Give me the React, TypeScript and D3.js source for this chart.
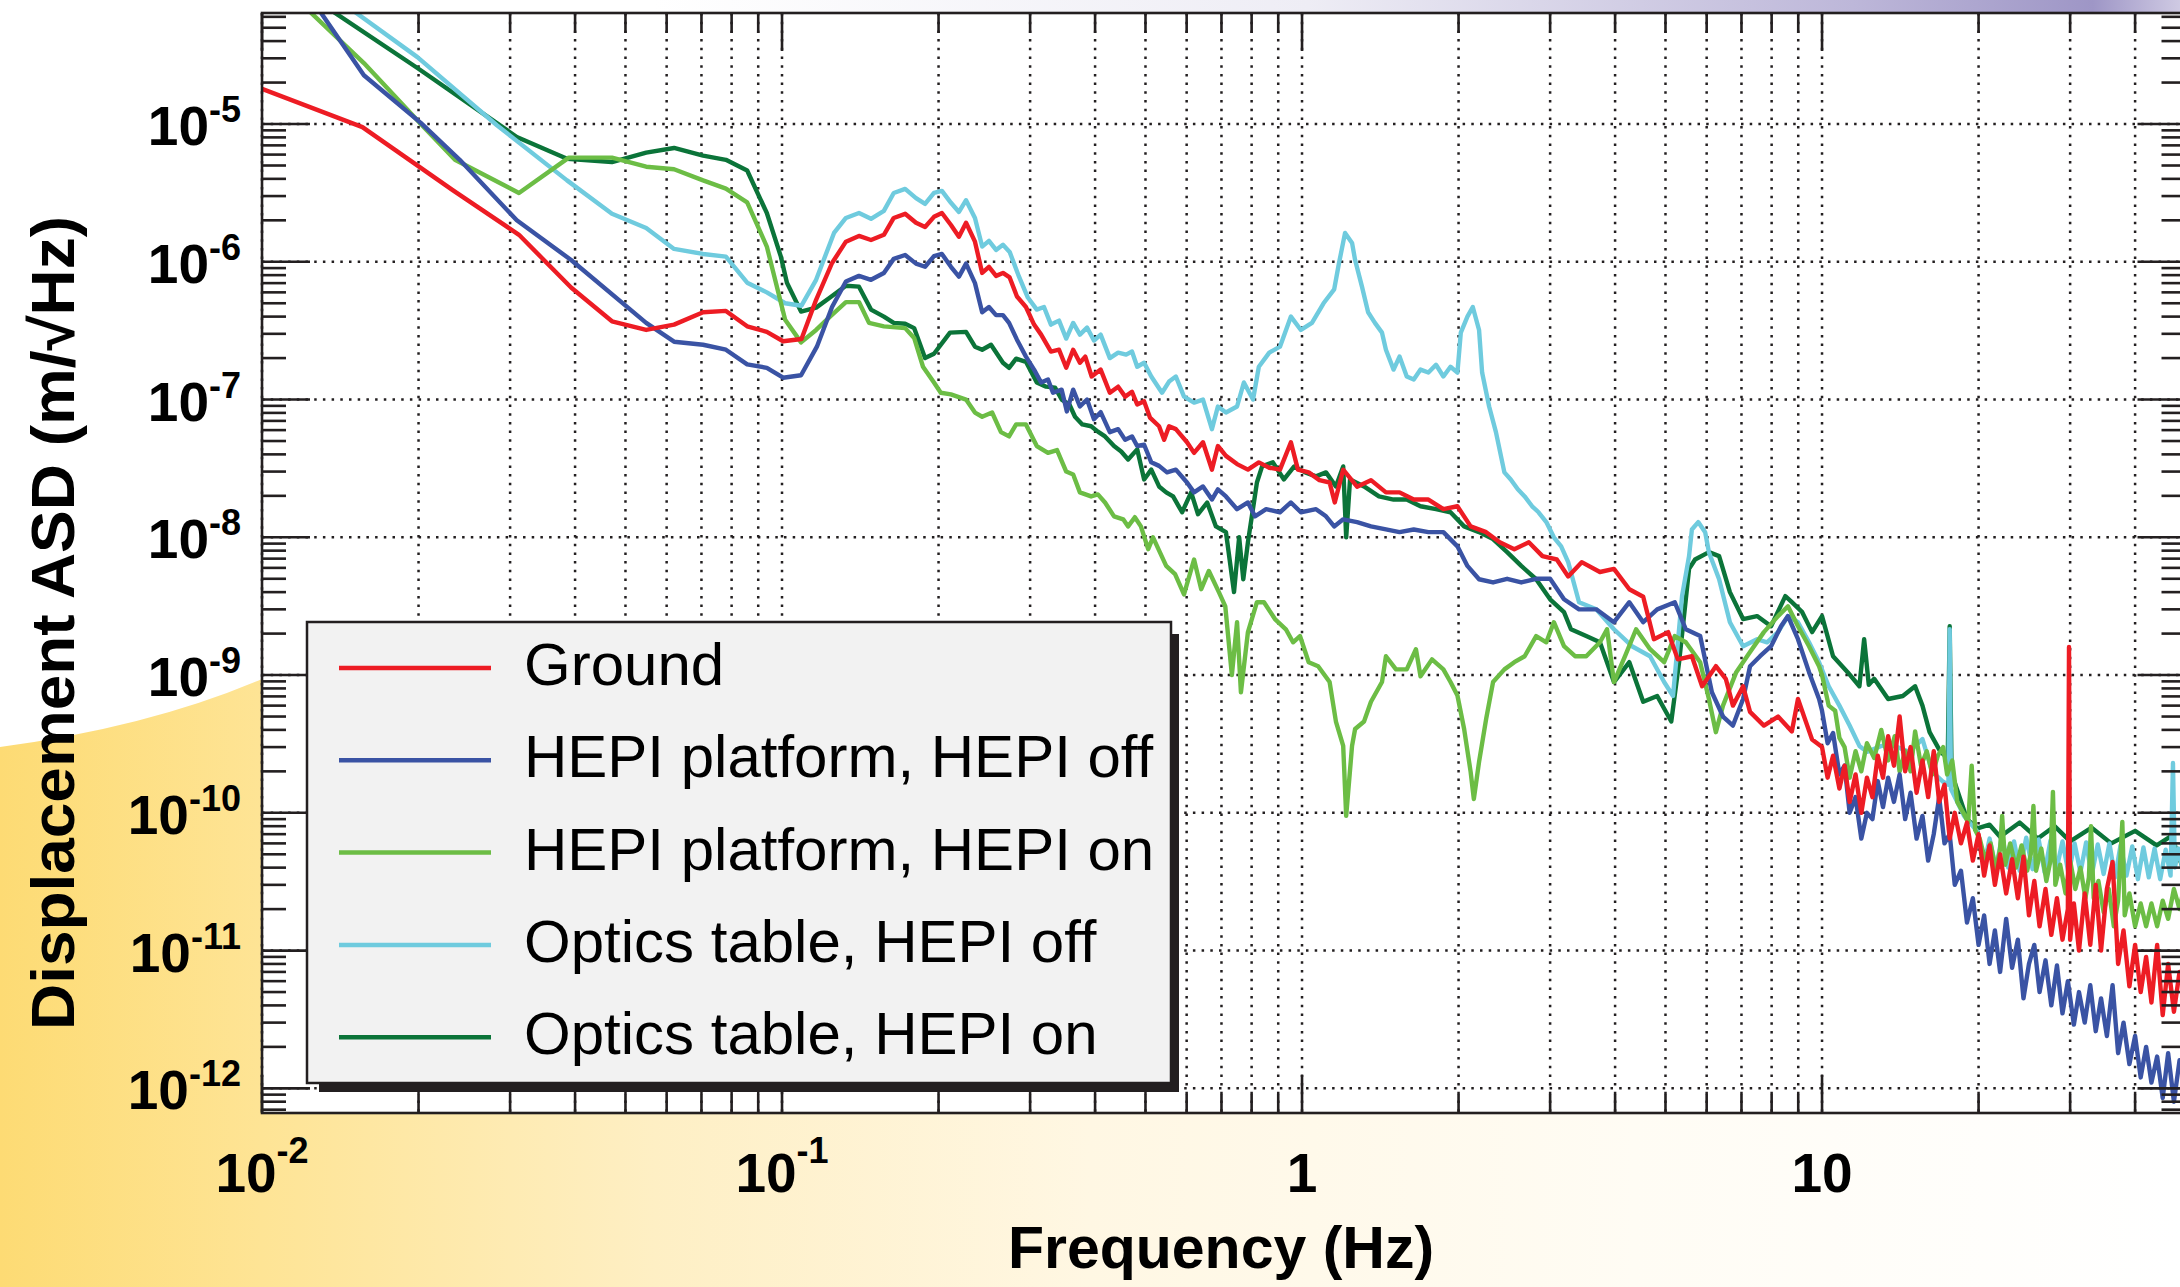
import React, { useEffect, useRef } from 'react';
import * as d3 from 'd3';

const W = 2180;
const H = 1287;

// [frequency Hz, displacement ASD m/rtHz]
const groundAsd: [number, number][] = [
  [0.01, 1.8e-5], [0.0156, 9.5e-6], [0.0233, 3.3e-6], [0.0312, 1.57e-6], [0.0393, 6.5e-7],
  [0.0471, 3.7e-7], [0.0548, 3.2e-7], [0.062, 3.5e-7], [0.0705, 4.3e-7], [0.078, 4.4e-7],
  [0.0857, 3.4e-7], [0.0935, 3.1e-7], [0.1005, 2.65e-7], [0.109, 2.75e-7], [0.1163, 5.3e-7],
  [0.1248, 9.8e-7], [0.1327, 1.4e-6], [0.1406, 1.54e-6], [0.1483, 1.44e-6], [0.157, 1.57e-6],
  [0.164, 2.08e-6], [0.1725, 2.23e-6], [0.181, 1.92e-6], [0.1884, 1.79e-6], [0.196, 2.12e-6],
  [0.203, 2.26e-6], [0.2113, 1.85e-6], [0.2189, 1.52e-6], [0.2259, 1.92e-6], [0.235, 1.4e-6],
  [0.2426, 8.3e-7], [0.25, 9.2e-7], [0.258, 7.9e-7], [0.266, 8.3e-7], [0.274, 7.7e-7],
  [0.283, 5.6e-7], [0.2945, 4.7e-7], [0.3053, 3.5e-7], [0.315, 2.96e-7], [0.329, 2.23e-7],
  [0.341, 2.3e-7], [0.352, 1.7e-7], [0.363, 2.3e-7], [0.374, 1.85e-7], [0.383, 2.05e-7],
  [0.394, 1.47e-7], [0.41, 1.65e-7], [0.427, 1.12e-7], [0.443, 1.24e-7], [0.457, 1.05e-7],
  [0.471, 1.14e-7], [0.482, 9.2e-8], [0.497, 9.7e-8], [0.51, 7.4e-8], [0.531, 6.4e-8],
  [0.543, 5.1e-8], [0.555, 6.4e-8], [0.572, 6.1e-8], [0.601, 4.9e-8], [0.62, 4.1e-8],
  [0.645, 4.9e-8], [0.671, 3.1e-8], [0.689, 4.6e-8], [0.714, 3.9e-8], [0.75, 3.4e-8],
  [0.787, 3.1e-8], [0.826, 3.5e-8], [0.865, 3.2e-8], [0.907, 3.1e-8], [0.952, 4.9e-8],
  [0.982, 3.1e-8], [1.03, 2.96e-8], [1.08, 2.6e-8], [1.13, 2.5e-8], [1.156, 1.79e-8],
  [1.2, 3.1e-8], [1.276, 2.33e-8], [1.357, 2.6e-8], [1.45, 2.12e-8], [1.54, 2.12e-8],
  [1.64, 1.88e-8], [1.75, 1.88e-8], [1.87, 1.6e-8], [1.99, 1.68e-8], [2.11, 1.2e-8],
  [2.26, 1.09e-8], [2.4, 9.2e-9], [2.56, 8.2e-9], [2.73, 9.2e-9], [2.9, 7.3e-9],
  [3.09, 6.9e-9], [3.25, 5.2e-9], [3.45, 6.6e-9], [3.74, 5.6e-9], [3.98, 5.9e-9],
  [4.26, 4.2e-9], [4.53, 3.7e-9], [4.75, 1.82e-9], [5.06, 2.05e-9], [5.28, 1.3e-9],
  [5.62, 1.37e-9], [5.88, 8.3e-10], [6.25, 1.16e-9], [6.53, 9.4e-10], [6.74, 6.0e-10],
  [7.05, 8.3e-10], [7.27, 5.4e-10], [7.73, 4.3e-10], [8.23, 5.0e-10], [8.75, 3.9e-10],
  [8.99, 6.7e-10], [9.57, 3.4e-10], [10.0, 3.0e-10], [10.25, 1.8e-10], [10.5, 2.6e-10],
  [10.8, 1.5e-10], [11.05, 2.2e-10], [11.3, 1.2e-10], [11.6, 1.9e-10], [11.9, 1.0e-10],
  [12.2, 1.8e-10], [12.5, 1.3e-10], [12.8, 2.6e-10], [13.1, 1.8e-10], [13.4, 3.6e-10],
  [13.75, 2.2e-10], [14.1, 5.0e-10], [14.45, 2.0e-10], [14.8, 3.0e-10], [15.2, 1.4e-10],
  [15.6, 2.4e-10], [16.0, 1.3e-10], [16.4, 2.8e-10], [16.8, 1.2e-10], [17.2, 1.6e-10],
  [17.6, 6.5e-11], [18.0, 1.0e-10], [18.5, 6.0e-11], [19.0, 8.5e-11], [19.5, 4.5e-11],
  [20.0, 7.0e-11], [20.5, 3.5e-11], [21.0, 5.8e-11], [21.5, 3.0e-11], [22.0, 5.0e-11],
  [22.6, 2.6e-11], [23.2, 4.6e-11], [23.8, 2.4e-11], [24.4, 4.8e-11], [25.0, 1.8e-11],
  [25.6, 3.2e-11], [26.2, 1.5e-11], [26.9, 2.8e-11], [27.6, 1.3e-11], [28.3, 2.4e-11],
  [29.0, 1.2e-11], [29.7, 2.0e-11], [29.85, 1.6e-9], [30.0, 1.2e-11], [30.5, 2.2e-11],
  [31.2, 1.0e-11], [32.0, 2.6e-11], [32.8, 1.1e-11], [33.6, 3.0e-11], [34.4, 1.0e-11],
  [35.3, 2.8e-11], [36.2, 4.4e-11], [37.1, 8.0e-12], [38.0, 1.4e-11], [39.0, 5.5e-12],
  [40.0, 1.1e-11], [41.0, 5.0e-12], [42.0, 9.0e-12], [43.0, 4.2e-12], [44.1, 1.1e-11],
  [45.2, 3.4e-12], [46.3, 8.0e-12], [47.5, 3.6e-12], [48.7, 7.0e-12], [50, 4.5e-12],
];

const hepiPlatformOff: [number, number][] = [
  [0.01, 2.7e-4], [0.0157, 2.26e-5], [0.0202, 1.02e-5], [0.024, 5.5e-6], [0.0309, 2.0e-6],
  [0.0393, 1.03e-6], [0.0548, 3.6e-7], [0.062, 2.63e-7], [0.0705, 2.5e-7], [0.078, 2.3e-7],
  [0.0857, 1.8e-7], [0.0935, 1.7e-7], [0.1005, 1.44e-7], [0.1088, 1.5e-7], [0.1167, 2.42e-7],
  [0.1248, 4.7e-7], [0.1327, 7.2e-7], [0.1406, 7.9e-7], [0.1483, 7.4e-7], [0.157, 8.3e-7],
  [0.164, 1.05e-6], [0.1725, 1.12e-6], [0.181, 9.7e-7], [0.1884, 9.2e-7], [0.196, 1.1e-6],
  [0.203, 1.14e-6], [0.2113, 9.2e-7], [0.2189, 7.8e-7], [0.2259, 9.7e-7], [0.235, 7.0e-7],
  [0.2426, 4.3e-7], [0.25, 4.7e-7], [0.258, 4.1e-7], [0.266, 4.1e-7], [0.2733, 3.6e-7],
  [0.283, 2.72e-7], [0.2945, 2.05e-7], [0.3053, 1.65e-7], [0.315, 1.33e-7], [0.3247, 1.4e-7],
  [0.332, 1.12e-7], [0.345, 1.18e-7], [0.353, 8.2e-8], [0.363, 1.18e-7], [0.374, 8.9e-8],
  [0.386, 1.0e-7], [0.398, 7.2e-8], [0.41, 8.1e-8], [0.427, 5.8e-8], [0.443, 6.1e-8],
  [0.457, 5.1e-8], [0.471, 5.4e-8], [0.482, 4.6e-8], [0.497, 4.7e-8], [0.513, 3.5e-8],
  [0.531, 3.3e-8], [0.55, 2.96e-8], [0.572, 3.1e-8], [0.601, 2.5e-8], [0.62, 2.12e-8],
  [0.645, 2.34e-8], [0.671, 1.88e-8], [0.689, 2.23e-8], [0.714, 1.98e-8], [0.75, 1.6e-8],
  [0.787, 1.79e-8], [0.812, 1.42e-8], [0.853, 1.6e-8], [0.907, 1.52e-8], [0.952, 1.79e-8],
  [0.995, 1.52e-8], [1.064, 1.6e-8], [1.112, 1.42e-8], [1.153, 1.2e-8], [1.2, 1.35e-8],
  [1.276, 1.29e-8], [1.357, 1.2e-8], [1.45, 1.14e-8], [1.54, 1.09e-8], [1.64, 1.14e-8],
  [1.75, 1.09e-8], [1.87, 1.09e-8], [1.99, 8.6e-9], [2.08, 6.2e-9], [2.19, 4.96e-9],
  [2.33, 4.7e-9], [2.48, 5.0e-9], [2.64, 4.7e-9], [2.82, 5.0e-9], [3.0, 5.0e-9],
  [3.19, 3.55e-9], [3.41, 3.0e-9], [3.68, 3.0e-9], [3.98, 2.42e-9], [4.26, 3.38e-9],
  [4.53, 2.42e-9], [4.82, 3.0e-9], [5.21, 3.38e-9], [5.47, 2.15e-9], [5.83, 1.92e-9],
  [6.14, 7.5e-10], [6.45, 5.0e-10], [6.74, 4.3e-10], [7.05, 6.7e-10], [7.27, 1.16e-9],
  [7.6, 1.37e-9], [7.98, 1.62e-9], [8.34, 2.26e-9], [8.6, 2.68e-9], [8.99, 1.82e-9],
  [9.44, 1.05e-9], [9.87, 6.7e-10], [10.0, 5.5e-10], [10.25, 3.2e-10], [10.5, 3.8e-10],
  [10.8, 1.9e-10], [11.05, 2.2e-10], [11.3, 1.0e-10], [11.6, 1.3e-10], [11.9, 6.5e-11],
  [12.2, 1.0e-10], [12.5, 9.0e-11], [12.8, 1.7e-10], [13.1, 1.1e-10], [13.4, 1.8e-10],
  [13.75, 1.2e-10], [14.1, 1.9e-10], [14.45, 9.0e-11], [14.8, 1.4e-10], [15.2, 6.5e-11],
  [15.6, 9.5e-11], [16.0, 4.5e-11], [16.4, 7.0e-11], [16.8, 1.3e-10], [17.2, 6.0e-11],
  [17.6, 7.0e-11], [18.0, 3.0e-11], [18.5, 3.8e-11], [19.0, 1.6e-11], [19.5, 2.4e-11],
  [20.0, 1.1e-11], [20.5, 1.8e-11], [21.0, 8.0e-12], [21.5, 1.4e-11], [22.0, 7.0e-12],
  [22.6, 1.7e-11], [23.2, 7.5e-12], [23.8, 1.2e-11], [24.4, 4.5e-12], [25.0, 8.0e-12],
  [25.6, 1.1e-11], [26.2, 5.0e-12], [26.9, 8.5e-12], [27.6, 4.0e-12], [28.3, 7.8e-12],
  [29.0, 3.5e-12], [29.7, 6.0e-12], [30.5, 2.9e-12], [31.2, 5.0e-12], [32.0, 3.0e-12],
  [32.8, 5.6e-12], [33.6, 2.6e-12], [34.4, 4.5e-12], [35.3, 2.4e-12], [36.2, 5.6e-12],
  [37.1, 1.8e-12], [38.0, 3.0e-12], [39.0, 1.5e-12], [40.0, 2.4e-12], [41.0, 1.2e-12],
  [42.0, 2.0e-12], [43.0, 1.1e-12], [44.1, 1.7e-12], [45.2, 8.5e-13], [46.3, 1.8e-12],
  [47.5, 8.0e-13], [48.7, 1.6e-12], [50, 1.0e-12],
];

const hepiPlatformOn: [number, number][] = [
  [0.01, 1.4e-4], [0.0157, 2.77e-5], [0.0202, 1.0e-5], [0.0235, 5.5e-6], [0.0312, 3.16e-6],
  [0.0389, 5.7e-6], [0.0471, 5.7e-6], [0.0548, 4.9e-6], [0.062, 4.7e-6], [0.0705, 3.9e-6],
  [0.078, 3.4e-6], [0.0857, 2.7e-6], [0.0935, 1.29e-6], [0.1014, 3.8e-7], [0.1088, 2.6e-7],
  [0.1163, 3.2e-7], [0.1237, 4.0e-7], [0.1327, 5.1e-7], [0.1406, 5.1e-7], [0.147, 3.6e-7],
  [0.157, 3.4e-7], [0.1725, 3.3e-7], [0.1795, 2.8e-7], [0.1867, 1.73e-7], [0.196, 1.33e-7],
  [0.202, 1.12e-7], [0.2113, 1.09e-7], [0.2259, 1.0e-7], [0.235, 8.05e-8], [0.2426, 7.5e-8],
  [0.2535, 8.05e-8], [0.2637, 5.8e-8], [0.2733, 5.4e-8], [0.282, 6.6e-8], [0.2945, 6.6e-8],
  [0.309, 4.6e-8], [0.3247, 4.1e-8], [0.338, 4.3e-8], [0.352, 3.0e-8], [0.363, 2.86e-8],
  [0.374, 2.12e-8], [0.393, 1.98e-8], [0.405, 2.05e-8], [0.418, 1.79e-8], [0.435, 1.42e-8],
  [0.453, 1.35e-8], [0.463, 1.2e-8], [0.477, 1.4e-8], [0.49, 1.2e-8], [0.506, 8.2e-9],
  [0.517, 1.0e-8], [0.548, 6.2e-9], [0.57, 5.4e-9], [0.593, 3.85e-9], [0.62, 6.9e-9],
  [0.64, 4.2e-9], [0.662, 5.7e-9], [0.692, 4.0e-9], [0.712, 3.15e-9], [0.733, 1.0e-9],
  [0.75, 2.42e-9], [0.763, 7.5e-10], [0.787, 2.05e-9], [0.819, 3.38e-9], [0.845, 3.38e-9],
  [0.887, 2.55e-9], [0.931, 2.15e-9], [0.961, 1.73e-9], [0.991, 1.92e-9], [1.03, 1.24e-9],
  [1.074, 1.16e-9], [1.13, 8.9e-10], [1.162, 4.6e-10], [1.2, 3.06e-10], [1.216, 9.5e-11],
  [1.248, 3.06e-10], [1.265, 4.06e-10], [1.316, 4.6e-10], [1.357, 6.4e-10], [1.425, 8.9e-10],
  [1.45, 1.37e-9], [1.516, 1.1e-9], [1.59, 1.1e-9], [1.656, 1.54e-9], [1.69, 9.8e-10],
  [1.778, 1.3e-9], [1.87, 1.1e-9], [1.93, 8.9e-10], [1.99, 7.1e-10], [2.05, 4.06e-10],
  [2.11, 1.98e-10], [2.14, 1.26e-10], [2.19, 2.34e-10], [2.26, 4.8e-10], [2.33, 8.9e-10],
  [2.45, 1.1e-9], [2.56, 1.24e-9], [2.68, 1.37e-9], [2.82, 1.92e-9], [2.95, 1.73e-9],
  [3.05, 2.42e-9], [3.19, 1.62e-9], [3.35, 1.37e-9], [3.52, 1.37e-9], [3.74, 1.73e-9],
  [3.86, 2.15e-9], [3.98, 8.9e-10], [4.18, 1.37e-9], [4.39, 2.15e-9], [4.67, 1.54e-9],
  [4.97, 1.24e-9], [5.21, 1.92e-9], [5.47, 1.73e-9], [5.83, 1.24e-9], [6.06, 6.7e-10],
  [6.25, 3.85e-10], [6.45, 6.0e-10], [6.84, 1.05e-9], [7.27, 1.47e-9], [7.73, 2.05e-9],
  [8.23, 2.68e-9], [8.6, 3.16e-9], [8.99, 2.26e-9], [9.44, 1.62e-9], [9.87, 1.16e-9],
  [10.0, 1.0e-9], [10.3, 6.0e-10], [10.6, 5.5e-10], [10.8, 3.5e-10], [11.05, 3.0e-10],
  [11.3, 1.8e-10], [11.6, 2.8e-10], [11.9, 2.0e-10], [12.2, 3.2e-10], [12.6, 2.5e-10],
  [13.0, 4.0e-10], [13.4, 2.4e-10], [13.8, 3.6e-10], [14.1, 2.0e-10], [14.45, 2.8e-10],
  [14.8, 2.0e-10], [15.1, 3.9e-10], [15.5, 2.2e-10], [15.9, 2.8e-10], [16.3, 1.9e-10],
  [16.7, 2.6e-10], [17.1, 3.0e-10], [17.4, 1.9e-10], [17.8, 2.4e-10], [18.2, 1.2e-10],
  [18.7, 1.0e-10], [19.1, 8.5e-11], [19.4, 2.2e-10], [19.7, 7.5e-11], [20.1, 6.5e-11],
  [20.6, 4.5e-11], [21.1, 6.0e-11], [21.6, 3.8e-11], [22.0, 5.5e-11], [22.2, 9.5e-11],
  [22.5, 4.2e-11], [23.0, 6.0e-11], [23.6, 4.0e-11], [24.2, 5.8e-11], [24.8, 3.8e-11],
  [25.2, 5.0e-11], [25.5, 1.12e-10], [25.8, 3.8e-11], [26.4, 5.5e-11], [27.0, 3.2e-11],
  [27.5, 4.5e-11], [27.8, 1.42e-10], [28.1, 3.0e-11], [28.7, 4.2e-11], [29.4, 2.6e-11],
  [30.0, 4.5e-11], [30.7, 2.8e-11], [31.4, 4.0e-11], [32.1, 2.4e-11], [32.6, 3.4e-11],
  [32.9, 8.0e-11], [33.3, 2.4e-11], [34.0, 3.2e-11], [34.8, 1.9e-11], [35.6, 2.8e-11],
  [36.4, 1.5e-11], [37.1, 2.3e-11], [37.8, 8.6e-11], [38.2, 1.8e-11], [39.0, 2.6e-11],
  [40.0, 1.5e-11], [41.0, 2.2e-11], [42.0, 1.5e-11], [43.0, 2.2e-11], [44.1, 1.5e-11],
  [45.2, 2.3e-11], [46.3, 1.7e-11], [47.5, 2.8e-11], [48.7, 2.0e-11], [50, 3.2e-11],
];

const opticsTableOff: [number, number][] = [
  [0.01, 2.0e-4], [0.0199, 3.06e-5], [0.0283, 9.8e-6], [0.0386, 3.9e-6], [0.0471, 2.23e-6],
  [0.0548, 1.76e-6], [0.062, 1.24e-6], [0.0705, 1.14e-6], [0.078, 1.09e-6], [0.0857, 7.05e-7],
  [0.0935, 6.0e-7], [0.1014, 5.0e-7], [0.109, 4.8e-7], [0.1163, 7.4e-7], [0.1259, 1.62e-6],
  [0.1327, 2.08e-6], [0.1406, 2.26e-6], [0.1483, 2.05e-6], [0.157, 2.34e-6], [0.164, 3.16e-6],
  [0.1725, 3.38e-6], [0.181, 2.9e-6], [0.1884, 2.63e-6], [0.196, 3.16e-6], [0.203, 3.27e-6],
  [0.2113, 2.68e-6], [0.2189, 2.3e-6], [0.2259, 2.8e-6], [0.235, 2.08e-6], [0.2426, 1.29e-6],
  [0.25, 1.42e-6], [0.258, 1.22e-6], [0.266, 1.33e-6], [0.274, 1.18e-6], [0.2856, 7.8e-7],
  [0.297, 5.5e-7], [0.309, 4.5e-7], [0.319, 4.7e-7], [0.329, 3.5e-7], [0.341, 3.74e-7],
  [0.352, 2.77e-7], [0.363, 3.6e-7], [0.374, 2.96e-7], [0.386, 3.33e-7], [0.398, 2.68e-7],
  [0.41, 2.96e-7], [0.427, 2.0e-7], [0.443, 2.19e-7], [0.459, 2.12e-7], [0.471, 2.23e-7],
  [0.482, 1.73e-7], [0.497, 1.85e-7], [0.513, 1.47e-7], [0.538, 1.12e-7], [0.555, 1.35e-7],
  [0.572, 1.47e-7], [0.593, 1.05e-7], [0.62, 9.5e-8], [0.645, 1.0e-7], [0.671, 6.1e-8],
  [0.689, 8.9e-8], [0.714, 8.05e-8], [0.75, 8.9e-8], [0.773, 1.33e-7], [0.805, 1.0e-7],
  [0.826, 1.73e-7], [0.865, 2.19e-7], [0.907, 2.42e-7], [0.952, 4.0e-7], [0.995, 3.2e-7],
  [1.045, 3.6e-7], [1.1, 5.0e-7], [1.153, 6.3e-7], [1.178, 9.8e-7], [1.21, 1.62e-6],
  [1.248, 1.37e-6], [1.265, 1.03e-6], [1.304, 6.6e-7], [1.34, 4.3e-7], [1.381, 3.6e-7],
  [1.425, 3.06e-7], [1.45, 2.3e-7], [1.5, 1.65e-7], [1.54, 2.05e-7], [1.59, 1.47e-7],
  [1.64, 1.4e-7], [1.69, 1.65e-7], [1.75, 1.57e-7], [1.81, 1.79e-7], [1.87, 1.47e-7],
  [1.93, 1.73e-7], [1.99, 1.57e-7], [2.02, 3.06e-7], [2.08, 4.0e-7], [2.13, 4.7e-7],
  [2.19, 3.2e-7], [2.22, 1.57e-7], [2.29, 8.9e-8], [2.36, 5.8e-8], [2.45, 2.96e-8],
  [2.52, 2.63e-8], [2.6, 2.23e-8], [2.68, 1.98e-8], [2.77, 1.68e-8], [2.85, 1.52e-8],
  [2.95, 1.29e-8], [3.05, 1.0e-8], [3.15, 8.6e-9], [3.25, 6.6e-9], [3.41, 3.38e-9],
  [3.68, 3.0e-9], [3.98, 2.15e-9], [4.31, 1.62e-9], [4.67, 1.37e-9], [4.97, 8.9e-10],
  [5.17, 7.05e-10], [5.38, 3.74e-9], [5.55, 7.3e-9], [5.62, 1.14e-8], [5.78, 1.29e-8],
  [5.96, 1.09e-8], [6.06, 7.8e-9], [6.34, 4.96e-9], [6.65, 2.42e-9], [7.05, 1.62e-9],
  [7.5, 1.82e-9], [7.84, 1.73e-9], [8.23, 2.05e-9], [8.6, 2.68e-9], [8.99, 2.42e-9],
  [9.44, 1.73e-9], [9.87, 1.24e-9], [10.3, 8.3e-10], [10.8, 6.0e-10], [11.3, 4.3e-10],
  [11.8, 3.06e-10], [12.2, 2.77e-10], [13.0, 3.06e-10], [13.8, 3.06e-10], [14.7, 2.77e-10],
  [15.6, 3.43e-10], [16.3, 1.98e-10], [17.1, 1.68e-10], [17.5, 1.6e-10], [17.6, 2.15e-9],
  [17.7, 1.49e-10], [18.75, 9.5e-11], [19.9, 7.3e-11], [20.5, 4.2e-11], [21.0, 6.5e-11],
  [21.6, 3.9e-11], [22.2, 6.8e-11], [22.8, 4.0e-11], [23.4, 6.2e-11], [24.0, 3.8e-11],
  [24.7, 6.6e-11], [25.4, 3.9e-11], [26.1, 6.4e-11], [26.8, 3.7e-11], [27.5, 6.3e-11],
  [28.2, 3.8e-11], [29.0, 6.2e-11], [29.8, 3.6e-11], [30.6, 6.0e-11], [31.4, 3.7e-11],
  [32.2, 6.1e-11], [33.0, 3.5e-11], [33.9, 5.9e-11], [34.8, 3.6e-11], [35.7, 6.0e-11],
  [36.6, 3.4e-11], [37.5, 5.8e-11], [38.5, 3.5e-11], [39.5, 5.7e-11], [40.5, 3.3e-11],
  [41.5, 5.6e-11], [42.5, 3.4e-11], [43.6, 5.5e-11], [44.7, 3.3e-11], [45.8, 5.4e-11],
  [46.8, 3.5e-11], [47.3, 2.3e-10], [47.7, 4.0e-11], [48.5, 5.5e-11], [49.5, 3.6e-11],
  [50, 5.0e-11],
];

const opticsTableOn: [number, number][] = [
  [0.01, 1.45e-4], [0.0199, 2.55e-5], [0.0309, 8.05e-6], [0.0386, 5.6e-6], [0.0471, 5.3e-6],
  [0.0548, 6.2e-6], [0.062, 6.7e-6], [0.0705, 5.9e-6], [0.078, 5.5e-6], [0.0857, 4.6e-6],
  [0.0935, 2.26e-6], [0.0995, 1.09e-6], [0.1022, 7.05e-7], [0.1088, 4.35e-7], [0.1163, 4.65e-7],
  [0.1237, 5.5e-7], [0.1327, 6.7e-7], [0.1406, 6.6e-7], [0.1483, 4.5e-7], [0.157, 4.0e-7],
  [0.164, 3.6e-7], [0.1725, 3.55e-7], [0.1795, 3.3e-7], [0.1884, 2.0e-7], [0.196, 2.15e-7],
  [0.2104, 3.06e-7], [0.2259, 3.1e-7], [0.235, 2.42e-7], [0.2426, 2.3e-7], [0.2523, 2.5e-7],
  [0.266, 1.85e-7], [0.2733, 1.7e-7], [0.282, 1.98e-7], [0.2945, 1.88e-7], [0.309, 1.33e-7],
  [0.322, 1.24e-7], [0.335, 1.22e-7], [0.345, 1.0e-7], [0.357, 9.2e-8], [0.366, 7.5e-8],
  [0.378, 6.6e-8], [0.393, 6.4e-8], [0.405, 5.85e-8], [0.418, 5.4e-8], [0.435, 4.6e-8],
  [0.449, 4.2e-8], [0.463, 3.67e-8], [0.482, 4.35e-8], [0.497, 2.63e-8], [0.513, 3.1e-8],
  [0.531, 2.34e-8], [0.548, 2.12e-8], [0.565, 1.98e-8], [0.588, 1.52e-8], [0.612, 2.12e-8],
  [0.631, 1.47e-8], [0.657, 1.79e-8], [0.683, 1.2e-8], [0.714, 1.09e-8], [0.74, 4.0e-9],
  [0.757, 1.0e-8], [0.771, 4.96e-9], [0.787, 9.2e-9], [0.819, 2.5e-8], [0.838, 3.27e-8],
  [0.879, 3.5e-8], [0.923, 2.63e-8], [0.966, 3.27e-8], [1.014, 2.96e-8], [1.064, 2.77e-8],
  [1.112, 2.96e-8], [1.162, 2.34e-8], [1.2, 3.27e-8], [1.216, 1.0e-8], [1.237, 2.63e-8],
  [1.316, 2.34e-8], [1.406, 1.98e-8], [1.5, 1.88e-8], [1.59, 1.88e-8], [1.69, 1.68e-8],
  [1.81, 1.6e-8], [1.93, 1.52e-8], [2.05, 1.2e-8], [2.19, 1.09e-8], [2.33, 9.7e-9],
  [2.48, 7.8e-9], [2.64, 6.2e-9], [2.82, 4.96e-9], [3.0, 3.55e-9], [3.19, 2.86e-9],
  [3.29, 2.15e-9], [3.52, 1.92e-9], [3.74, 1.73e-9], [3.98, 8.9e-10], [4.26, 1.24e-9],
  [4.53, 6.4e-10], [4.82, 7.05e-10], [5.13, 4.6e-10], [5.31, 1.24e-9], [5.55, 5.9e-9],
  [5.7, 6.9e-9], [6.06, 7.8e-9], [6.34, 7.3e-9], [6.65, 4.0e-9], [7.05, 2.55e-9],
  [7.5, 2.68e-9], [7.98, 2.26e-9], [8.5, 3.74e-9], [8.75, 3.38e-9], [9.16, 2.86e-9],
  [9.57, 2.05e-9], [10.0, 2.68e-9], [10.5, 1.37e-9], [11.2, 1.05e-9], [11.8, 8.3e-10],
  [12.05, 1.82e-9], [12.3, 8.5e-10], [12.6, 9.4e-10], [13.4, 6.7e-10], [14.3, 7.05e-10],
  [15.1, 8.3e-10], [15.6, 6.0e-10], [16.1, 3.85e-10], [16.9, 2.77e-10], [17.45, 2.5e-10],
  [17.6, 2.26e-9], [17.75, 1.9e-10], [17.9, 1.76e-10], [19.0, 9.0e-11], [19.9, 7.7e-11],
  [21, 8.2e-11], [22, 6.7e-11], [24, 8.5e-11], [26, 6.5e-11], [28, 8.0e-11],
  [30, 6.2e-11], [33, 7.8e-11], [36, 6.0e-11], [40, 7.4e-11], [44, 5.8e-11],
  [47, 6.8e-11], [50, 3.5e-11],
];

const seriesNames = [
  'Ground',
  'HEPI platform, HEPI off',
  'HEPI platform, HEPI on',
  'Optics table, HEPI off',
  'Optics table, HEPI on',
];
const seriesData = [groundAsd, hepiPlatformOff, hepiPlatformOn, opticsTableOff, opticsTableOn];
const seriesColors = ['#ED1C24', '#3A53A4', '#6CBD45', '#6FCBDE', '#0B7439'];
// drawing order, bottom to top
const drawOrder = [4, 3, 2, 1, 0];

const xDomain: [number, number] = [0.01, 50];
const yDomain: [number, number] = [Math.pow(10, -12.179), Math.pow(10, -4.194)];
const yTickExponents = [-5, -6, -7, -8, -9, -10, -11, -12];
const xTickLabels = [
  { value: 0.01, base: '10', exp: '-2' },
  { value: 0.1, base: '10', exp: '-1' },
  { value: 1, base: '1', exp: '' },
  { value: 10, base: '10', exp: '' },
];

const FONT = "'Liberation Sans', Arial, Helvetica, sans-serif";
const INK = '#231F20';

export default function App() {
  const ref = useRef<SVGSVGElement>(null);

  useEffect(() => {
    const svg = d3.select(ref.current);
    svg.selectAll('*').remove();

    const left = 262, right = 2185.5, top = 13, bottom = 1113;
    const x = d3.scaleLog().domain(xDomain).range([left, right]);
    const y = d3.scaleLog().domain(yDomain).range([bottom, top]);

    const defs = svg.append('defs');
    const gold = defs.append('linearGradient').attr('id', 'gold')
      .attr('gradientUnits', 'userSpaceOnUse').attr('x1', 0).attr('x2', W).attr('y1', 0).attr('y2', 0);
    [[0, '#FDDB74'], [0.12, '#FEE495'], [0.3, '#FEEFC4'], [0.5, '#FFF7E3'], [0.75, '#FFFCF4'], [1, '#FFFFFF']]
      .forEach(([o, c]) => gold.append('stop').attr('offset', o as number).attr('stop-color', c as string));
    const lav = defs.append('linearGradient').attr('id', 'lav')
      .attr('gradientUnits', 'userSpaceOnUse').attr('x1', 0).attr('x2', W).attr('y1', 0).attr('y2', 0);
    [[0, '#FFFFFF'], [0.3, '#FFFFFF'], [0.6, '#EEEDF5'], [0.85, '#BDB7D9'], [0.96, '#9E96C6'], [1, '#CFCAE3']]
      .forEach(([o, c]) => lav.append('stop').attr('offset', o as number).attr('stop-color', c as string));
    defs.append('clipPath').attr('id', 'plotclip').append('rect')
      .attr('x', left).attr('y', top).attr('width', right - left).attr('height', bottom - top);

    // background
    svg.append('rect').attr('width', W).attr('height', H).attr('fill', '#fff');
    svg.append('path').attr('d', `M0,747 Q150,727 ${left},679 L${left},${H} L0,${H} Z`).attr('fill', 'url(#gold)');
    svg.append('rect').attr('x', 0).attr('y', bottom).attr('width', W).attr('height', H - bottom).attr('fill', 'url(#gold)');
    svg.append('rect').attr('x', 0).attr('y', 0).attr('width', W).attr('height', top).attr('fill', 'url(#lav)');
    svg.append('rect').attr('x', left).attr('y', top).attr('width', right - left).attr('height', bottom - top).attr('fill', '#fff');

    const xTicks = x.ticks().filter(t => t >= xDomain[0] && t <= xDomain[1]);
    const yTicks = y.ticks().filter(t => t >= yDomain[0] && t <= yDomain[1]);
    const isMajor = (v: number) => Math.abs(Math.log10(v) - Math.round(Math.log10(v))) < 1e-6;

    // dotted grid
    const grid = svg.append('g').attr('stroke', INK).attr('stroke-width', 2.5).attr('stroke-dasharray', '2.5,6.2');
    grid.selectAll('line.v').data(xTicks).join('line').attr('class', 'v')
      .attr('x1', d => x(d)).attr('x2', d => x(d)).attr('y1', top).attr('y2', bottom);
    grid.selectAll('line.h').data(yTicks.filter(isMajor)).join('line').attr('class', 'h')
      .attr('x1', left).attr('x2', right).attr('y1', d => y(d)).attr('y2', d => y(d));

    // traces
    const line = d3.line<[number, number]>().x(d => x(d[0])).y(d => y(d[1]));
    const traces = svg.append('g').attr('clip-path', 'url(#plotclip)');
    drawOrder.forEach(i => {
      traces.append('path').datum(seriesData[i]).attr('d', line)
        .attr('fill', 'none').attr('stroke', seriesColors[i]).attr('stroke-width', 4.4)
        .attr('stroke-linejoin', 'round');
    });

    // frame and ticks
    const axes = svg.append('g').attr('stroke', INK).attr('stroke-width', 2.6);
    axes.append('rect').attr('x', left).attr('y', top).attr('width', right - left).attr('height', bottom - top).attr('fill', 'none');
    axes.selectAll('line.bt').data(xTicks).join('line').attr('class', 'bt')
      .attr('x1', d => x(d)).attr('x2', d => x(d)).attr('y1', bottom).attr('y2', d => bottom - (isMajor(d) ? 38 : 19));
    axes.selectAll('line.tt').data(xTicks).join('line').attr('class', 'tt')
      .attr('x1', d => x(d)).attr('x2', d => x(d)).attr('y1', top).attr('y2', d => top + (isMajor(d) ? 38 : 20));
    axes.selectAll('line.lt').data(yTicks).join('line').attr('class', 'lt')
      .attr('y1', d => y(d)).attr('y2', d => y(d)).attr('x1', left).attr('x2', d => left + (isMajor(d) ? 48 : 24));
    axes.selectAll('line.rt').data(yTicks).join('line').attr('class', 'rt')
      .attr('y1', d => y(d)).attr('y2', d => y(d)).attr('x1', right).attr('x2', d => right - (isMajor(d) ? 48 : 24));

    // y tick labels
    svg.append('g').selectAll('text').data(yTickExponents).join('text')
      .attr('x', 241).attr('y', e => y(Math.pow(10, e)) + 21)
      .attr('text-anchor', 'end').attr('font-family', FONT).attr('font-weight', 'bold')
      .attr('font-size', 55).attr('fill', '#000')
      .each(function (e) {
        const t = d3.select(this);
        t.append('tspan').text('10');
        t.append('tspan').attr('dy', -23).attr('font-size', 36).text(String(e));
      });

    // x tick labels
    svg.append('g').selectAll('text').data(xTickLabels).join('text')
      .attr('x', d => x(d.value)).attr('y', 1192)
      .attr('text-anchor', 'middle').attr('font-family', FONT).attr('font-weight', 'bold')
      .attr('font-size', 55).attr('fill', '#000')
      .each(function (d) {
        const t = d3.select(this);
        t.append('tspan').text(d.base);
        if (d.exp) t.append('tspan').attr('dy', -29).attr('font-size', 36).text(d.exp);
      });

    // axis titles
    svg.append('text').attr('x', 1221).attr('y', 1268).attr('text-anchor', 'middle')
      .attr('font-family', FONT).attr('font-weight', 'bold').attr('font-size', 59).attr('fill', '#000')
      .text('Frequency (Hz)');
    svg.append('text').attr('transform', 'translate(74,623) rotate(-90)').attr('text-anchor', 'middle')
      .attr('font-family', FONT).attr('font-weight', 'bold').attr('font-size', 61).attr('fill', '#000')
      .attr('textLength', 814).attr('lengthAdjust', 'spacingAndGlyphs')
      .text('Displacement ASD (m/\u221AHz)');

    // legend
    const lg = svg.append('g');
    lg.append('rect').attr('x', 319).attr('y', 634).attr('width', 860).attr('height', 458).attr('fill', INK);
    lg.append('rect').attr('x', 307).attr('y', 622).attr('width', 864).attr('height', 461)
      .attr('fill', '#F2F2F2').attr('stroke', INK).attr('stroke-width', 2.5);
    seriesNames.forEach((name, i) => {
      const ry = 668 + i * 92.3;
      lg.append('line').attr('x1', 339).attr('x2', 491).attr('y1', ry).attr('y2', ry)
        .attr('stroke', seriesColors[i]).attr('stroke-width', 4.5);
      lg.append('text').attr('x', 524).attr('y', ry + 17).attr('font-family', FONT)
        .attr('font-size', 60).attr('fill', '#000').text(name);
    });
  }, []);

  return (
    <div style={{ position: 'absolute', left: 0, top: 0, width: W, height: H, overflow: 'hidden' }}>
      <svg ref={ref} width={W} height={H} style={{ display: 'block' }} />
    </div>
  );
}
